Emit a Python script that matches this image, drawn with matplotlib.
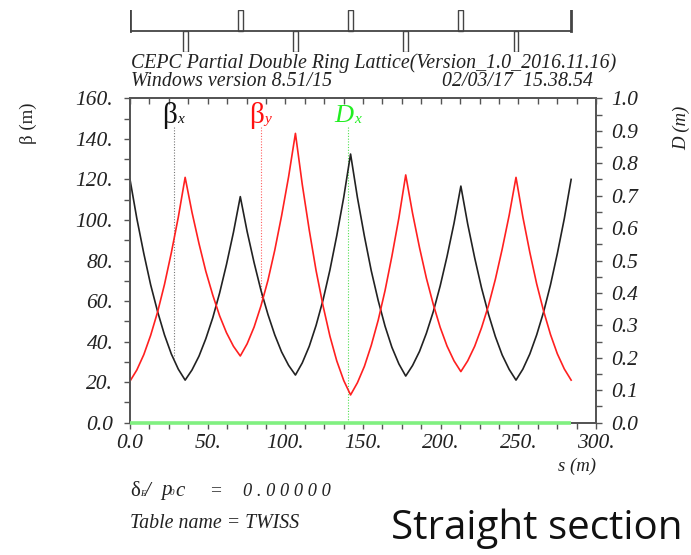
import matplotlib
matplotlib.use("Agg")
import matplotlib.pyplot as plt
from matplotlib.patches import Rectangle
from matplotlib.ticker import MultipleLocator, FixedLocator

# ---------------- data ----------------
s = [0.0, 4.4, 8.9, 13.3, 17.8, 22.2, 26.6, 31.1,
     35.5, 39.9, 44.4, 48.8, 53.3, 57.7, 62.1, 66.6,
     71.0, 75.4, 79.9, 84.3, 88.8, 93.2, 97.6, 102.1,
     106.5, 110.9, 115.4, 119.8, 124.3, 128.7, 133.1, 137.6,
     142.0, 146.4, 150.9, 155.3, 159.8, 164.2, 168.6, 173.1,
     177.5, 181.9, 186.4, 190.8, 195.3, 199.7, 204.1, 208.6,
     213.0, 217.4, 221.9, 226.3, 230.8, 235.2, 239.6, 244.1,
     248.5, 252.9, 257.4, 261.8, 266.3, 270.7, 275.1, 279.6,
     284.0]

beta_x = [120.0, 100.7, 83.4, 68.0, 54.7, 43.3, 33.9, 26.4,
          21.0, 26.0, 32.8, 41.4, 51.8, 64.0, 78.0, 93.9,
          111.5, 94.3, 78.9, 65.3, 53.4, 43.3, 34.9, 28.3,
          23.5, 29.5, 37.7, 48.0, 60.6, 75.3, 92.2, 111.2,
          132.5, 111.1, 92.0, 75.0, 60.2, 47.6, 37.2, 29.0,
          23.0, 28.2, 35.2, 44.1, 54.9, 67.5, 82.0, 98.4,
          116.7, 98.0, 81.3, 66.5, 53.5, 42.5, 33.4, 26.3,
          21.0, 26.4, 33.9, 43.3, 54.7, 68.0, 83.4, 100.7,
          120.0]

beta_y = [20.5, 26.0, 33.6, 43.1, 54.7, 68.2, 83.8, 101.4,
          121.0, 103.8, 88.4, 74.7, 62.9, 52.7, 44.4, 37.7,
          32.9, 38.9, 47.2, 57.6, 70.2, 85.1, 102.1, 121.3,
          142.7, 117.5, 95.0, 75.0, 57.6, 42.7, 30.5, 20.8,
          13.7, 19.7, 27.8, 38.1, 50.6, 65.2, 82.1, 101.0,
          122.2, 103.3, 86.3, 71.3, 58.2, 47.0, 37.8, 30.5,
          25.2, 30.5, 37.7, 46.8, 57.8, 70.7, 85.6, 102.3,
          121.0, 101.5, 84.0, 68.5, 55.0, 43.5, 34.0, 26.5,
          21.0]

dx_s = [0.0, 284.0]
dx = [0.0, 0.0]

# lattice elements
qf_s = [71.0, 142.0, 213.0]          # quads drawn above the line
qd_s = [35.5, 106.5, 177.5, 248.5]   # quads drawn below the line
lattice_ends = [0.0, 284.0]

# legend markers (label position s, curve value where the dotted line ends)
leg_bx_s, leg_bx_end = 28.3, 32.0
leg_by_s, leg_by_end = 84.1, 61.0
leg_dx_s, leg_dx_end = 140.6, 0.0

left_ticks = [0, 20, 40, 60, 80, 100, 120, 140, 160]
left_labels = ["0.0", "20.", "40.", "60.", "80.", "100.", "120.", "140.", "160."]
right_ticks = [0.0, 0.1, 0.2, 0.3, 0.4, 0.5, 0.6, 0.7, 0.8, 0.9, 1.0]
right_labels = ["0.0", "0.1", "0.2", "0.3", "0.4", "0.5", "0.6", "0.7", "0.8", "0.9", "1.0"]
bottom_ticks = [0, 50, 100, 150, 200, 250, 300]
bottom_labels = ["0.0", "50.", "100.", "150.", "200.", "250.", "300."]

# ---------------- figure ----------------
W, H = 691, 555
fig = plt.figure(figsize=(W / 100, H / 100), dpi=100)
fig.patch.set_facecolor("white")

SERIF = "Liberation Serif"
spine_c = "#555555"
txt_c = "#222222"

def fx(px):
    return px / W

def fy(py):
    return 1 - py / H

ax = fig.add_axes([fx(130), fy(422.7), fx(466), 324.4 / H])
ax.set_xlim(0, 300)
ax.set_ylim(0, 160)
ax.plot(s, beta_x, color="#222222", lw=1.2, zorder=3)
ax.plot(s, beta_y, color="#ff2020", lw=1.2, zorder=3)

ax2 = ax.twinx()
ax2.set_ylim(0, 1)
ax2.plot(dx_s, dx, color="#80f080", lw=2.6, zorder=5, clip_on=False, solid_capstyle="butt")

for a in (ax, ax2):
    for sp in a.spines.values():
        sp.set_color(spine_c)
        sp.set_linewidth(1.3)

# ticks
ax.xaxis.set_major_locator(FixedLocator(bottom_ticks))
ax.set_xticklabels(bottom_labels)
ax.xaxis.set_minor_locator(MultipleLocator(12.5))
ax.yaxis.set_major_locator(FixedLocator(left_ticks))
ax.set_yticklabels(left_labels)
ax.yaxis.set_minor_locator(MultipleLocator(10))
ax.tick_params(axis="x", which="both", direction="out", length=4, width=1, color=spine_c,
               top=True, labeltop=False, pad=4)
ax.tick_params(axis="y", which="both", direction="out", length=4, width=1, color=spine_c, pad=8)
ax2.yaxis.set_major_locator(FixedLocator(right_ticks))
ax2.set_yticklabels(right_labels)
ax2.yaxis.set_minor_locator(MultipleLocator(0.05))
ax2.tick_params(axis="y", which="both", direction="out", length=4, width=1, color=spine_c, pad=7)

for lab in ax.get_xticklabels() + ax.get_yticklabels() + ax2.get_yticklabels():
    lab.set_fontfamily(SERIF)
    lab.set_fontstyle("italic")
    lab.set_fontsize(15.5)
    lab.set_color(txt_c)

# top ticks pointing inward
for t in ax.xaxis.get_major_ticks() + ax.xaxis.get_minor_ticks():
    t.tick2line.set_marker(3)  # TICKDOWN

# legend markers
ax.plot([leg_bx_s, leg_bx_s], [146, leg_bx_end], ls=(0, (1, 1.5)), color="#777777", lw=0.8)
ax.plot([leg_by_s, leg_by_s], [146, leg_by_end], ls=(0, (1, 1.5)), color="#ff6060", lw=0.8)
ax.plot([leg_dx_s, leg_dx_s], [146, leg_dx_end], ls=(0, (1, 1.5)), color="#50e050", lw=0.8)

ax.text(leg_bx_s - 3.0, 151.5, "β", ha="center", va="center", fontsize=21,
        family=SERIF, color="#111111")
ax.text(leg_bx_s + 4.0, 149.5, "x", ha="center", va="center", fontsize=11,
        family=SERIF, style="italic", color="#111111")
ax.text(leg_by_s - 2.5, 151.5, "β", ha="center", va="center", fontsize=21,
        family=SERIF, color="#ff1010")
ax.text(leg_by_s + 4.5, 149.5, "y", ha="center", va="center", fontsize=11,
        family=SERIF, style="italic", color="#ff1010")
ax.text(leg_dx_s - 3.0, 151.5, "D", ha="center", va="center", fontsize=19,
        family=SERIF, style="italic", color="#22ee22")
ax.text(leg_dx_s + 6.0, 149.5, "x", ha="center", va="center", fontsize=11,
        family=SERIF, style="italic", color="#22ee22")

# axis titles
fig.text(fx(28), fy(123), "β (m)", rotation=90, ha="center", va="center",
         fontsize=13.5, family=SERIF, color=txt_c)
fig.text(fx(682), fy(128), "D (m)", rotation=90, ha="center", va="center",
         fontsize=13.5, family=SERIF, style="italic", color=txt_c)
fig.text(fx(577), fy(466), "s (m)", ha="center", va="center",
         fontsize=13.5, family=SERIF, style="italic", color=txt_c)

# header
fig.text(fx(131), fy(63), "CEPC Partial Double Ring Lattice(Version_1.0_2016.11.16)",
         ha="left", va="center", fontsize=14.3, family=SERIF, style="italic", color=txt_c)
fig.text(fx(131), fy(81), "Windows version 8.51/15",
         ha="left", va="center", fontsize=14.3, family=SERIF, style="italic", color=txt_c)
fig.text(fx(593), fy(81), "02/03/17  15.38.54",
         ha="right", va="center", fontsize=14.3, family=SERIF, style="italic", color=txt_c)

# footer
fig.text(fx(130), fy(491), "δ", ha="left", va="center", fontsize=15, family=SERIF, color=txt_c)
fig.text(fx(140), fy(494), "E", ha="left", va="center", fontsize=6.5, family=SERIF,
         style="italic", color=txt_c)
fig.text(fx(145), fy(491), "/", ha="left", va="center", fontsize=15, family=SERIF,
         style="italic", color=txt_c)
fig.text(fx(161), fy(491), "p", ha="left", va="center", fontsize=15, family=SERIF,
         style="italic", color=txt_c)
fig.text(fx(170), fy(493), "0", ha="left", va="center", fontsize=6.5, family=SERIF,
         style="italic", color=txt_c)
fig.text(fx(175), fy(491), "c", ha="left", va="center", fontsize=15, family=SERIF,
         style="italic", color=txt_c)
fig.text(fx(210), fy(491), "=", ha="left", va="center", fontsize=14, family=SERIF, color=txt_c)
fig.text(fx(243), fy(491), "0 . 0 0 0 0 0", ha="left", va="center", fontsize=13.2,
         family=SERIF, style="italic", color=txt_c)
fig.text(fx(130), fy(523), "Table name = TWISS", ha="left", va="center", fontsize=14.3,
         family=SERIF, style="italic", color=txt_c)
fig.text(fx(537), fy(529), "Straight section", ha="center", va="center", fontsize=29,
         family="Open Sans", color="#111111")

# lattice drawing
axl = fig.add_axes([fx(130), fy(52), fx(466), 42 / H])
axl.set_xlim(0, 300)
axl.set_ylim(-1, 1)
axl.axis("off")
lat_c = "#444444"
axl.plot(lattice_ends, [0, 0], color=lat_c, lw=1.3)
for e in lattice_ends:
    axl.plot([e, e], [0, 1], color=lat_c, lw=2.0)
qw = 3.2
for q in qf_s:
    axl.add_patch(Rectangle((q - qw / 2, 0), qw, 1, facecolor="white", edgecolor=lat_c, lw=1.0))
for q in qd_s:
    axl.add_patch(Rectangle((q - qw / 2, -1), qw, 1, facecolor="white", edgecolor=lat_c, lw=1.0))

fig.savefig("out.png", dpi=100, facecolor="white")
